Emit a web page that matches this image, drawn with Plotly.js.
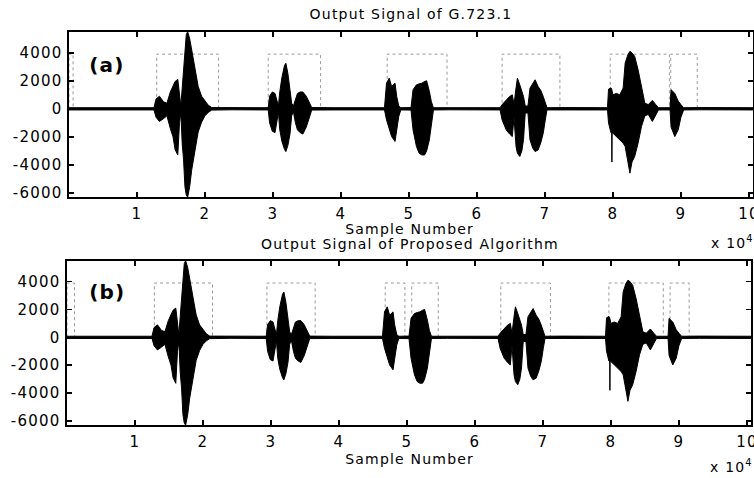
<!DOCTYPE html>
<html>
<head>
<meta charset="utf-8">
<script src="https://cdn.plot.ly/plotly-3.0.1.min.js"></script>
<style>
  html, body { margin: 0; padding: 0; background: #fff; }
  #chart { width: 754px; height: 478px; }
  #chart svg text { letter-spacing: 1.2px; }
</style>
</head>
<body>
<div id="chart"></div>
<script>
// ---- Data (sample index, envelope of the waveform) ----
const sampleX = [0,3000,6000,9000,12500,12800,13300,13900,14400,14900,15300,15600,16000,16250,16450,16650,16850,17050,17250,17450,17750,18050,18550,19000,19500,20000,20500,21000,24000,27000,
  29300,29500,29900,30300,30600,30800,31000,31300,31700,31900,32200,32500,32750,33000,33300,33600,34000,34400,34900,35400,35700,39000,42000,44500,
  46400,46700,47100,47450,47950,48200,48500,48800,50300,50600,51100,51500,51900,52300,52600,53000,53300,53600,56000,59000,61500,
  63400,63700,64300,64800,65200,65450,65750,65950,66300,66600,66850,67100,67500,67800,68200,68550,69000,69400,69750,70050,70300,73000,76000,
  79200,79350,79700,79820,79850,79880,80000,80500,81000,81500,81800,82200,82500,82800,83200,83700,84200,84700,85200,85800,86300,86700,
  88400,88550,89100,89600,90000,90400,93000,96000,100600];
const upperEnv = [80,90,70,90,80,700,900,500,400,1200,1600,1950,2100,1000,200,1500,2800,4450,5300,5500,5000,4200,2800,1600,900,600,250,90,80,70,
  80,900,1200,1100,600,200,1200,2200,3100,3250,2500,1300,400,200,700,1100,1200,1200,900,400,90,80,90,70,
  80,1830,2190,1590,1830,880,200,80,90,1360,1710,1780,1830,1950,2000,1240,500,80,90,70,80,
  80,300,640,880,1000,300,1500,2190,1710,1200,880,200,200,1480,1800,2070,1590,1300,880,400,80,90,70,
  80,1400,1500,1400,1300,1200,1000,1100,1000,1480,3260,3860,4100,4000,3740,2790,1590,400,300,600,300,80,
  80,1360,1100,550,300,80,90,70,80];
const lowerEnv = [-80,-70,-90,-80,-80,-600,-900,-700,-500,-1400,-2000,-2900,-3300,-1000,-300,-2500,-3650,-5550,-6150,-6300,-5550,-4350,-2850,-1650,-950,-500,-250,-90,-70,-90,
  -80,-1000,-1600,-1700,-900,-250,-1500,-2300,-2900,-3050,-2600,-1800,-500,-200,-1000,-1500,-1700,-1800,-1300,-500,-90,-80,-70,-80,
  -80,-790,-1500,-1980,-2330,-1500,-550,-80,-90,-1500,-2690,-3170,-3290,-3290,-3000,-2210,-1000,-80,-70,-90,-80,
  -80,-790,-1500,-1800,-1980,-600,-2700,-3170,-3400,-3000,-2200,-300,-300,-2210,-2800,-3050,-2930,-2400,-1740,-800,-80,-80,-70,
  -80,-1000,-1700,-1700,-3800,-1700,-1740,-2000,-2210,-2450,-2690,-3640,-4590,-3800,-3400,-2450,-1260,-500,-400,-900,-400,-80,
  -80,-1300,-1980,-1500,-600,-80,-70,-90,-80];

// Voice activity decisions (dotted boxes): start / end samples and box height
const vadTopStart = [0, 12900, 29300, 46800, 63700, 79600, 88500];
const vadTopEnd   = [600, 22000, 37000, 55600, 72200, 88300, 92400];
const vadBotStart = [0, 12850, 29400, 46800, 50700, 63800, 79700, 88700];
const vadBotEnd   = [1100, 21400, 36500, 49700, 54600, 71100, 87700, 91500];
const vadLevel = 3900;

const xTickVals = [10000,20000,30000,40000,50000,60000,70000,80000,90000,100000];
const xTickText = ['1','2','3','4','5','6','7','8','9','10'];
const yTickVals = [-6000,-4000,-2000,0,2000,4000];
const yTickText = ['-6000','-4000','-2000','0','2000','4000'];

// ---- Build traces ----
function vadPath(starts, ends, level) {
  const x = [], y = [];
  for (let i = 0; i < starts.length; i++) {
    x.push(starts[i], starts[i], ends[i], ends[i], null);
    y.push(0, level, level, 0, null);
  }
  return {x, y};
}
function signalTraces(xa, ya) {
  return [
    {x: sampleX, y: upperEnv, xaxis: xa, yaxis: ya, mode: 'lines', type: 'scatter',
     line: {color: '#000', width: 1}, hoverinfo: 'skip'},
    {x: sampleX, y: lowerEnv, xaxis: xa, yaxis: ya, mode: 'lines', type: 'scatter',
     fill: 'tonexty', fillcolor: '#000', line: {color: '#000', width: 1}, hoverinfo: 'skip'}
  ];
}
const vTop = vadPath(vadTopStart, vadTopEnd, vadLevel);
const vBot = vadPath(vadBotStart, vadBotEnd, vadLevel);
const vadStyle = {color: '#9a9a9a', width: 1, dash: 'dot'};

const data = [
  {x: vTop.x, y: vTop.y, xaxis: 'x', yaxis: 'y', mode: 'lines', type: 'scatter', line: vadStyle, connectgaps: false},
  ...signalTraces('x', 'y'),
  {x: vBot.x, y: vBot.y, xaxis: 'x2', yaxis: 'y2', mode: 'lines', type: 'scatter', line: vadStyle, connectgaps: false},
  ...signalTraces('x2', 'y2')
];

const W = 754, H = 478;
const FONT = 'DejaVu Sans, Arial, sans-serif';
const tickFont = {family: FONT, size: 15, color: '#000'};
function xAxis(left, right, anchor) {
  return {domain: [left / W, right / W], range: [0, 100600], anchor: anchor,
    tickmode: 'array', tickvals: xTickVals, ticktext: xTickText,
    ticks: 'inside', ticklen: 5, tickwidth: 1.5, tickcolor: '#000',
    showline: true, mirror: 'ticks', linecolor: '#000', linewidth: 1.6,
    showgrid: false, zeroline: false, tickfont: tickFont, ticklabelstandoff: 2,
    ticklabeloverflow: 'allow'};
}
function yAxis(topPx, botPx, anchor) {
  return {domain: [1 - botPx / H, 1 - topPx / H], range: [-6290, 5480], anchor: anchor,
    tickmode: 'array', tickvals: yTickVals, ticktext: yTickText,
    ticks: 'inside', ticklen: 5, tickwidth: 1.5, tickcolor: '#000',
    showline: true, mirror: 'ticks', linecolor: '#000', linewidth: 1.6,
    showgrid: false, zeroline: false, tickfont: tickFont, ticklabelstandoff: 2,
    ticklabeloverflow: 'allow'};
}
function note(text, xpx, ypx, size, anchorX, extra) {
  return Object.assign({text: text, xref: 'paper', yref: 'paper', x: xpx / W, y: 1 - ypx / H,
    xanchor: anchorX || 'center', yanchor: 'middle', showarrow: false,
    font: {family: FONT, size: size, color: '#000'}}, extra || {});
}

const layout = {
  width: W, height: H,
  margin: {l: 0, r: 0, t: 0, b: 0, autoexpand: false},
  paper_bgcolor: '#fff', plot_bgcolor: '#fff',
  showlegend: false,
  xaxis: xAxis(69, 753, 'y'),
  yaxis: yAxis(32, 197, 'x'),
  xaxis2: xAxis(67, 751, 'y2'),
  yaxis2: yAxis(261, 425, 'x2'),
  annotations: [
    note('Output Signal of G.723.1', 411, 14, 14),
    note('Sample Number', 410, 229, 14),
    note('x 10<sup>4</sup>', 712, 242, 14, 'left'),
    note('Output Signal of Proposed Algorithm', 410, 244, 14),
    note('Sample Number', 410, 459, 14),
    note('x 10<sup>4</sup>', 711, 466, 14, 'left'),
    note('(a)', 89, 65, 20, 'left', {font: {family: FONT, size: 20, color: '#000', weight: 'bold'}}),
    note('(b)', 89, 292, 20, 'left', {font: {family: FONT, size: 20, color: '#000', weight: 'bold'}})
  ]
};

Plotly.newPlot('chart', data, layout, {displayModeBar: false, staticPlot: true});
</script>
</body>
</html>
